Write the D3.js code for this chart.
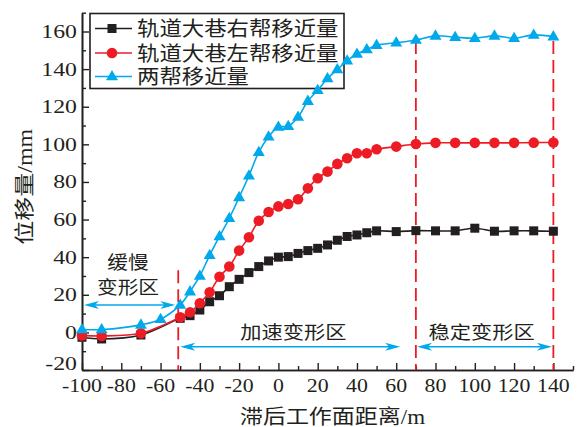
<!DOCTYPE html>
<html><head><meta charset="utf-8">
<script src="https://cdn.jsdelivr.net/npm/d3@7"></script>
<style>body{margin:0;background:#fff}svg{display:block}</style>
</head><body><svg id="c" width="582" height="427"></svg>
<script>
// ---------- data ----------
const xSides = [-100,-90,-70,-50,-45,-40,-35,-30,-25,-20,-15,-10,-5,0,5,10,15,20,25,30,35,40,45,50,60,70,80,90,100,110,120,130,140];
const rightSide = [-2.6,-3.5,-1.4,7.5,8.9,11.9,16.3,19.5,24.3,28.2,31.8,35,38,40,40.3,42,43.5,44.7,46.5,49,51,51.8,53,54,53.6,54.1,54,54,55.4,53.8,54,54,53.8];
const leftSide = [-1.6,-1.9,-0.5,8,10.7,15.5,21.3,29.6,35,43.5,50.6,59.4,64,67,68.3,70.8,76.6,82,85.5,89.6,92.6,95.3,95.3,97.4,98.8,100.2,100.8,100.8,100.8,100.8,100.8,100.9,101];
const xBoth = [-100,-90,-70,-60,-50,-45,-40,-35,-30,-25,-20,-15,-10,-5,0,5,10,15,20,25,30,35,40,45,50,60,70,80,90,100,110,120,130,140];
const bothSides = [1.5,1.5,4,7,14.6,21.7,30,41,51,60.7,71.8,83.3,95.8,104,109.2,109.6,114.5,123,128.8,135,139.8,144.5,148,150.4,152.7,154,155.5,157.7,157,156.4,157.7,156.4,158.2,157.3];
const seriesNames = ["轨道大巷右帮移近量","轨道大巷左帮移近量","两帮移近量"];
const xTickValues = [-100,-80,-60,-40,-20,0,20,40,60,80,100,120,140];
const xMinorValues = [-90,-70,-50,-30,-10,10,30,50,70,90,110,130,150];
const yTickValues = [-20,0,20,40,60,80,100,120,140,160];
const yMinorValues = [-10,10,30,50,70,90,110,130,150,170];
const zoneBounds = [-51,70,140];
const zoneTops = [33,155,155];
const zoneLabels = ["加速变形区","稳定变形区"];
const slowLabel = ["缓慢","变形区"];
const xTitle = "滞后工作面距离/m";
const yTitle = "位移量/mm";

// ---------- setup ----------
const svg = d3.select('#c');
const x = d3.scaleLinear().domain([-100,150]).range([82,573]);
const y = d3.scaleLinear().domain([-20,170]).range([370,12.7]);
const colors = ["#231f20","#ed1c24","#00a9ec"];
const FONT = "'Liberation Serif','Noto Sans CJK SC',serif";

function txt(str, cx, cy, o){
  o = o||{};
  const fs = o.fs||20, sx = o.sx||1.15, rot = o.rot||0;
  return svg.append('text')
    .attr('transform', `translate(${cx},${cy})` + (rot?` rotate(${rot})`:'') + ` scale(${sx},1)`)
    .attr('text-anchor', o.anchor||'middle')
    .attr('dy', o.dy||'0.38em')
    .attr('font-family', FONT)
    .attr('font-size', fs)
    .attr('fill', '#231f20')
    .text(str);
}

// ---------- axes ----------
const gxm = svg.append('g').attr('transform','translate(0,370)')
  .call(d3.axisBottom(x).tickValues(xMinorValues).tickSize(-4).tickSizeOuter(0).tickFormat(''));
const gx = svg.append('g').attr('transform','translate(0,370)')
  .call(d3.axisBottom(x).tickValues(xTickValues).tickSize(-7).tickSizeOuter(0).tickFormat(''));
const gym = svg.append('g').attr('transform','translate(82,0)')
  .call(d3.axisLeft(y).tickValues(yMinorValues).tickSize(-4).tickSizeOuter(0).tickFormat(''));
const gy = svg.append('g').attr('transform','translate(82,0)')
  .call(d3.axisLeft(y).tickValues(yTickValues).tickSize(-7).tickSizeOuter(0).tickFormat(''));
[gxm,gx,gym,gy].forEach(g=>{
  g.selectAll('line').attr('stroke','#231f20').attr('stroke-width',1.4);
  g.select('.domain').attr('stroke','#231f20').attr('stroke-width',1.6);
});

xTickValues.forEach(v=> txt(String(v), x(v), 385.5, {fs:19.5, sx:1.12, dy:'0.33em'}));
yTickValues.forEach(v=> txt(String(v), 77, y(v) - (v===-20?6:0), {fs:19.5, sx:1.22, dy:'0.33em', anchor:'end'}));

txt(xTitle, 332.5, 416, {fs:20, sx:1.15});
txt(yTitle, 24, 186.7, {fs:20, sx:1.2, rot:-90});

// ---------- legend ----------
const lg = svg.append('g');
lg.append('rect').attr('x',90).attr('y',13.5).attr('width',254).attr('height',75)
  .attr('fill','#fff').attr('stroke','#231f20').attr('stroke-width',1.6);
const legRows = [28.5,53,76.5];

// ---------- marker shapes ----------
function drawMarker(g, k, cx, cy){
  if(k===0){
    g.append('rect').attr('x',cx-4.5).attr('y',cy-4.5).attr('width',9).attr('height',9).attr('fill',colors[0]);
  } else if(k===1){
    g.append('circle').attr('cx',cx).attr('cy',cy).attr('r',5.3).attr('fill',colors[1]);
  } else {
    g.append('path').attr('d',`M${cx},${cy-6.5}L${cx+6},${cy+3.8}L${cx-6},${cy+3.8}Z`).attr('fill',colors[2]);
  }
}
seriesNames.forEach((n,k)=>{
  lg.append('line').attr('x1',95).attr('x2',132).attr('y1',legRows[k]).attr('y2',legRows[k])
    .attr('stroke',colors[k]).attr('stroke-width',1.6);
  drawMarker(lg,k,112,legRows[k]);
  svg.append('text')
    .attr('transform',`translate(137,${legRows[k]}) scale(1.12,1)`)
    .attr('dy','0.38em').attr('font-family',FONT).attr('font-size',20).attr('fill','#231f20')
    .text(n);
});

// ---------- zone dashed lines ----------
zoneBounds.forEach((b,i)=>{
  svg.append('line').attr('x1',x(b)).attr('x2',x(b)).attr('y1',y(zoneTops[i])).attr('y2',y(-20))
    .attr('stroke','#ed1c24').attr('stroke-width',1.8).attr('stroke-dasharray','13,6');
});

// ---------- series ----------
const seriesData = [
  xSides.map((v,i)=>[v,rightSide[i]]),
  xSides.map((v,i)=>[v,leftSide[i]]),
  xBoth.map((v,i)=>[v,bothSides[i]])
];
const line = d3.line().x(d=>x(d[0])).y(d=>y(d[1])).curve(d3.curveCatmullRom.alpha(0.5));
seriesData.forEach((data,k)=>{
  const g = svg.append('g');
  g.append('path').attr('d',line(data)).attr('fill','none').attr('stroke',colors[k]).attr('stroke-width',1.6);
  data.forEach(d=>drawMarker(g,k,x(d[0]),y(d[1])));
});

// ---------- arrows & zone labels ----------
function arrow(x0,x1,yv){
  const X0 = x(x0), X1 = x(x1), Y = y(yv);
  const c = colors[2];
  svg.append('line').attr('x1',X0+4).attr('x2',X1-4).attr('y1',Y).attr('y2',Y).attr('stroke',c).attr('stroke-width',1.5);
  svg.append('path').attr('d',`M${X0},${Y}L${X0+15},${Y-4}L${X0+11},${Y}L${X0+15},${Y+4}Z`).attr('fill',c);
  svg.append('path').attr('d',`M${X1},${Y}L${X1-15},${Y-4}L${X1-11},${Y}L${X1-15},${Y+4}Z`).attr('fill',c);
}
arrow(-99,-52.5,14.6);
arrow(-50,62,-7.6);
arrow(70.6,139.3,-7.6);

txt(slowLabel[0], 128, 261.5, {fs:18.5, sx:1.12});
txt(slowLabel[1], 128, 286.7, {fs:18.5, sx:1.12});
txt(zoneLabels[0], 293.3, 331.7, {fs:18.5, sx:1.15});
txt(zoneLabels[1], 481.7, 331.7, {fs:18.5, sx:1.15});
</script>
</body></html>
